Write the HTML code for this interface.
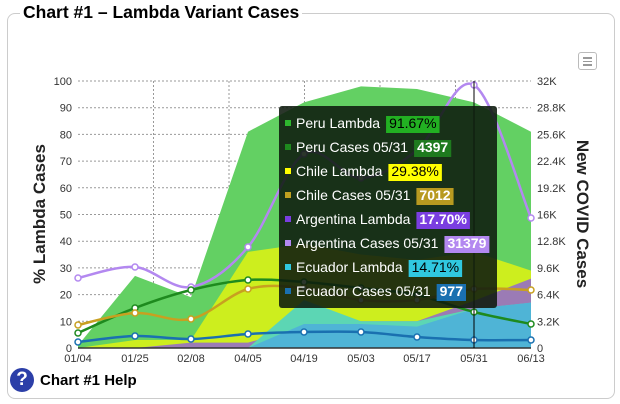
<!DOCTYPE html>
<html><head><meta charset="utf-8"><style>
body{margin:0;width:620px;height:404px;background:#fff;font-family:"Liberation Sans",sans-serif;overflow:hidden;position:relative}
.frame{position:absolute;left:7px;top:13px;width:606px;height:384px;border:1px solid #ccc;border-radius:8px}
.title{position:absolute;left:20px;top:2px;background:#fff;padding:0 3px;font-weight:bold;font-size:17.5px;color:#000}
.help{position:absolute;left:10px;top:368px;font-weight:bold;font-size:15px;display:flex;align-items:center}
.help .c{width:24px;height:24px;border-radius:50%;background:#2c3fa8;color:#fff;font-size:19px;text-align:center;line-height:24px;margin-right:6px}
.menu{position:absolute;left:578px;top:52px;width:17px;height:16px;border:1px solid #bbb;border-radius:3px;background:#fff}
.menu i{position:absolute;left:4px;width:9px;height:1.5px;background:#999}
</style></head><body>
<div class="frame"></div>
<div class="title">Chart #1 – Lambda Variant Cases</div>
<div class="menu"><i style="top:4px"></i><i style="top:7.5px"></i><i style="top:11px"></i></div>
<svg id="s" width="620" height="404" style="position:absolute;left:0;top:0" font-family="Liberation Sans, sans-serif"></svg>
<div class="help"><div class="c">?</div>Chart #1 Help</div>
<script>
const X=[78,135,191,248,304,361,417,474,531];
const yL=v=>348-v*2.67;
let h='';
for(let i=0;i<=10;i++){let y=yL(i*10);if(i>0)h+=`<line x1="78" x2="531" y1="${y}" y2="${y}" stroke="#999" stroke-dasharray="2,2" stroke-width="1"/>`;
h+=`<text x="72" y="${y+4}" font-size="11" text-anchor="end" fill="#333">${i*10}</text>`;
const r=['0','3.2K','6.4K','9.6K','12.8K','16K','19.2K','22.4K','25.6K','28.8K','32K'][i];
h+=`<text x="537" y="${y+4}" font-size="11" fill="#333">${r}</text>`;}
for(let i=1;i<=5;i++){let x=78+i*75.5;h+=`<line x1="${x}" x2="${x}" y1="81" y2="348" stroke="#999" stroke-dasharray="2,2"/>`;}
const area=(vals,c)=>{let p=`M78,348 `+vals.map((v,i)=>`L${X[i]},${yL(v)}`).join(' ')+` L531,348Z`;return `<path d="${p}" fill="${c}"/>`;};
h+=area([1,27,19,81,92,98,97,92,81],'#63d063');
h+=area([0,3,3,36,39,35,33,36,29],'#cdee1e');
h+=area([0,0,2,2,8,10,10,17.7,26],'#9b7bb5');
h+=area([0,0,0,0,18,10,10,14.7,17],'#5cd6b4');
h+=area([0,0,0,0,9,9,8,14.7,17],'#4fb4d6');
h+=`<line x1="78" x2="531" y1="348" y2="348" stroke="#333" stroke-width="1.5"/>`;
const smooth=(ys)=>{let pts=ys.map((y,i)=>[X[i],y]);let d=`M${pts[0][0]},${pts[0][1]}`;
for(let i=0;i<pts.length-1;i++){const p0=pts[i-1]||pts[i],p1=pts[i],p2=pts[i+1],p3=pts[i+2]||p2;
d+=` C${p1[0]+(p2[0]-p0[0])/6},${p1[1]+(p2[1]-p0[1])/6} ${p2[0]-(p3[0]-p1[0])/6},${p2[1]-(p3[1]-p1[1])/6} ${p2[0]},${p2[1]}`;}return d;};
const line=(ys,c)=>{h+=`<path d="${smooth(ys)}" fill="none" stroke="${c}" stroke-width="2.5"/>`;ys.forEach((y,i)=>{h+=`<circle cx="${X[i]}" cy="${y}" r="3" fill="#fff" stroke="${c}" stroke-width="1.5"/>`});};
line([278,267,287,247,154,178,150,85,218],'#b388f0');
line([333,308,290,280,282,288,295,312,324],'#1e8a1e');
line([325,313,319,289,288,300,300,289,290],'#c8a020');
line([342,336,339,334,332,332,337,340,340],'#1a70b0');
h+=`<line x1="474" x2="474" y1="81" y2="348" stroke="#000" stroke-width="1"/>`;
h+=`<rect x="279" y="106" width="218" height="202" rx="3" fill="#0e1a0e" fill-opacity="0.88"/>`;
const L=['01/04','01/25','02/08','04/05','04/19','05/03','05/17','05/31','06/13'];
L.forEach((l,i)=>h+=`<text x="${X[i]}" y="362" font-size="11" text-anchor="middle" fill="#333">${l}</text>`);
h+=`<text transform="translate(45,214) rotate(-90)" font-size="17" font-weight="bold" text-anchor="middle" fill="#222">% Lambda Cases</text>`;
h+=`<text transform="translate(577,214) rotate(90)" font-size="17" font-weight="bold" text-anchor="middle" fill="#222">New COVID Cases</text>`;
const svg=document.getElementById('s');
svg.innerHTML=h;
const NS='http://www.w3.org/2000/svg';
const mk=(tag,attrs,txt)=>{const e=document.createElementNS(NS,tag);for(const k in attrs)e.setAttribute(k,attrs[k]);if(txt)e.textContent=txt;svg.appendChild(e);return e;};
const rows=[['Peru Lambda','91.67%','#2eb82e','#22b022','#000'],['Peru Cases 05/31','4397','#1e8a1e','#1e7a1e','#fff'],['Chile Lambda','29.38%','#ffff00','#ffff00','#000'],['Chile Cases 05/31','7012','#c0a020','#b89a20','#fff'],['Argentina Lambda','17.70%','#7a3ee0','#7a3ee0','#fff'],['Argentina Cases 05/31','31379','#b388f0','#b388f0','#fff'],['Ecuador Lambda','14.71%','#30c8e0','#30c8e0','#000'],['Ecuador Cases 05/31','977','#1a70b0','#1a70b0','#fff']];
rows.forEach((r,i)=>{let y=123+i*24;mk('rect',{x:285,y:y-3,width:6,height:6,fill:r[2]});
const t=mk('text',{x:296,y:y+5,'font-size':14,fill:'#fff'},r[0]);
const w=t.getComputedTextLength();const bx=296+w+6;
const rc=mk('rect',{x:bx,y:y-7,width:10,height:17,fill:r[3]});
const b=mk('text',{x:bx+3,y:y+5,'font-size':14,'font-weight':r[4]=='#fff'?'bold':'normal',fill:r[4]},r[1]);
rc.setAttribute('width',b.getComputedTextLength()+6);});
</script>
</body></html>
